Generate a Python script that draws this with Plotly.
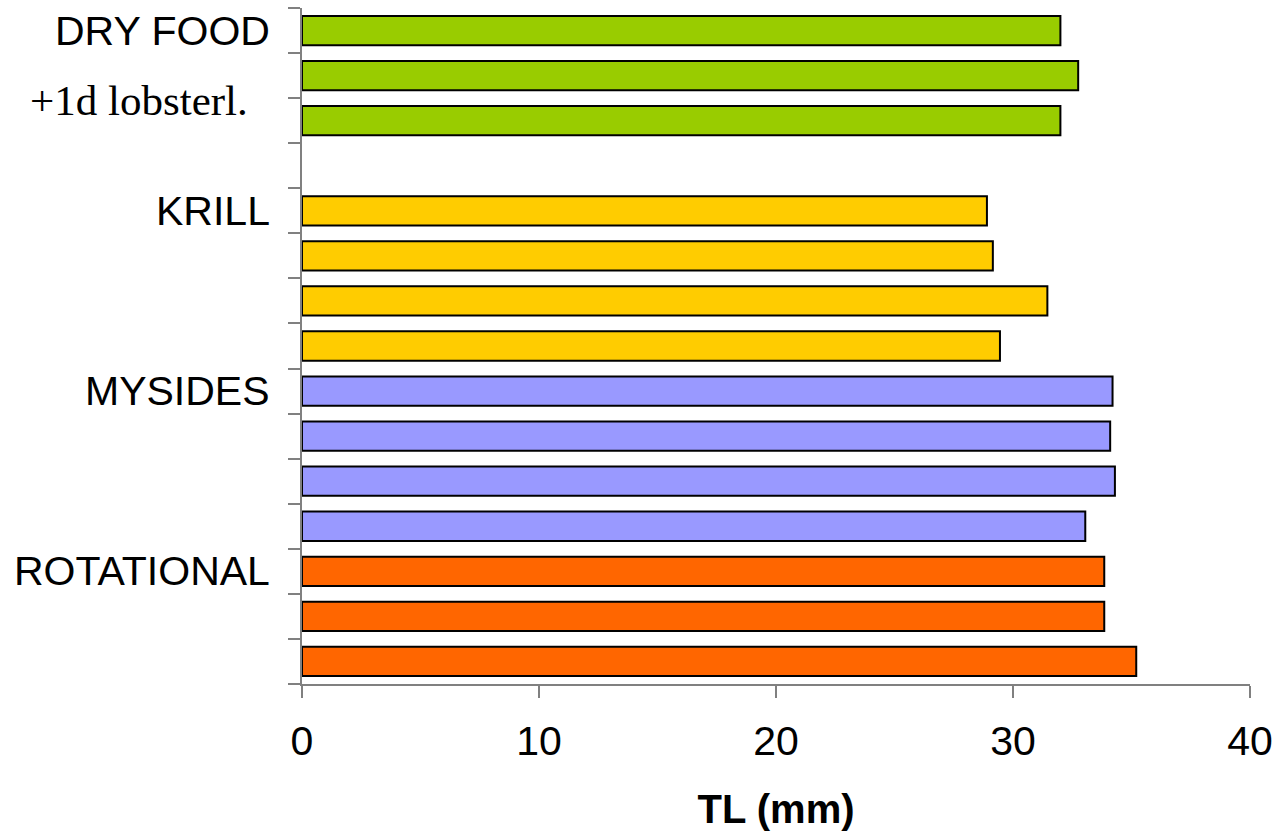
import plotly.graph_objects as go

# ---- data ----
group_names = ["DRY FOOD", "KRILL", "MYSIDES", "ROTATIONAL"]
group_colors = ["#99CC00", "#FFCC00", "#9999FF", "#FF6600"]
dry_food = [32.0, 32.75, 32.0]
krill = [28.9, 29.15, 31.45, 29.45]
mysides = [34.2, 34.1, 34.3, 33.05]
rotational = [33.85, 33.85, 35.2]
sub_label = "+1d lobsterl."
x_ticks = [0, 10, 20, 30, 40]
x_title = "TL (mm)"

groups = [dry_food, krill, mysides, rotational]
gaps_after = [1, 0, 0, 0]  # empty slot after the dry food group

fig = go.Figure()
row = 0
group_first_rows = []
for name, vals, col, gap in zip(group_names, groups, group_colors, gaps_after):
    rows = list(range(row, row + len(vals)))
    group_first_rows.append(rows[0])
    fig.add_trace(go.Bar(
        x=vals, y=rows, orientation="h", name=name,
        marker=dict(color=col, line=dict(color="black", width=2)),
        width=0.65, showlegend=False, hoverinfo="x+name",
    ))
    row += len(vals) + gap
n_rows = row

fig.update_layout(
    width=1278, height=838,
    margin=dict(l=302, r=28, t=8, b=154, autoexpand=False),
    plot_bgcolor="white", paper_bgcolor="white",
    font=dict(family="Liberation Sans, Arial, sans-serif", color="black"),
    bargap=0.35,
)
fig.update_xaxes(
    range=[0, 40], tickvals=x_ticks, ticktext=[str(t) for t in x_ticks],
    showline=True, linecolor="#808080", linewidth=1.5,
    ticks="outside", ticklen=12, tickcolor="#808080", tickwidth=1.5,
    showgrid=False, zeroline=False, automargin=False,
    tickfont=dict(size=41, family="Liberation Sans, Arial, sans-serif"),
    ticklabelstandoff=8,
    title=dict(text="<b>" + x_title + "</b>", font=dict(size=40), standoff=32),
)
fig.update_yaxes(
    range=[n_rows - 0.5, -0.5],
    tickvals=[i - 0.5 for i in range(n_rows + 1)], showticklabels=False,
    showline=True, linecolor="#808080", linewidth=1.5,
    ticks="outside", ticklen=12, tickcolor="#808080", tickwidth=1.5,
    showgrid=False, zeroline=False, automargin=False,
)

for name, r in zip(group_names, group_first_rows):
    fig.add_annotation(
        text=name, xref="paper", x=0, y=r, yref="y",
        xanchor="right", yanchor="middle", xshift=-30, showarrow=False,
        font=dict(size=41, family="Liberation Sans, Arial, sans-serif", color="black"),
    )
fig.add_annotation(
    text=sub_label, xref="paper", x=0, y=group_first_rows[0] + 1.5, yref="y",
    xanchor="right", yanchor="middle", xshift=-52, yshift=-2, showarrow=False,
    font=dict(size=43, family="Liberation Serif, Times New Roman, serif", color="black"),
)

fig.write_html(
    "out.html",
    config={"displayModeBar": False},
    post_script="document.body.style.margin='0';document.body.style.overflow='hidden';",
)
